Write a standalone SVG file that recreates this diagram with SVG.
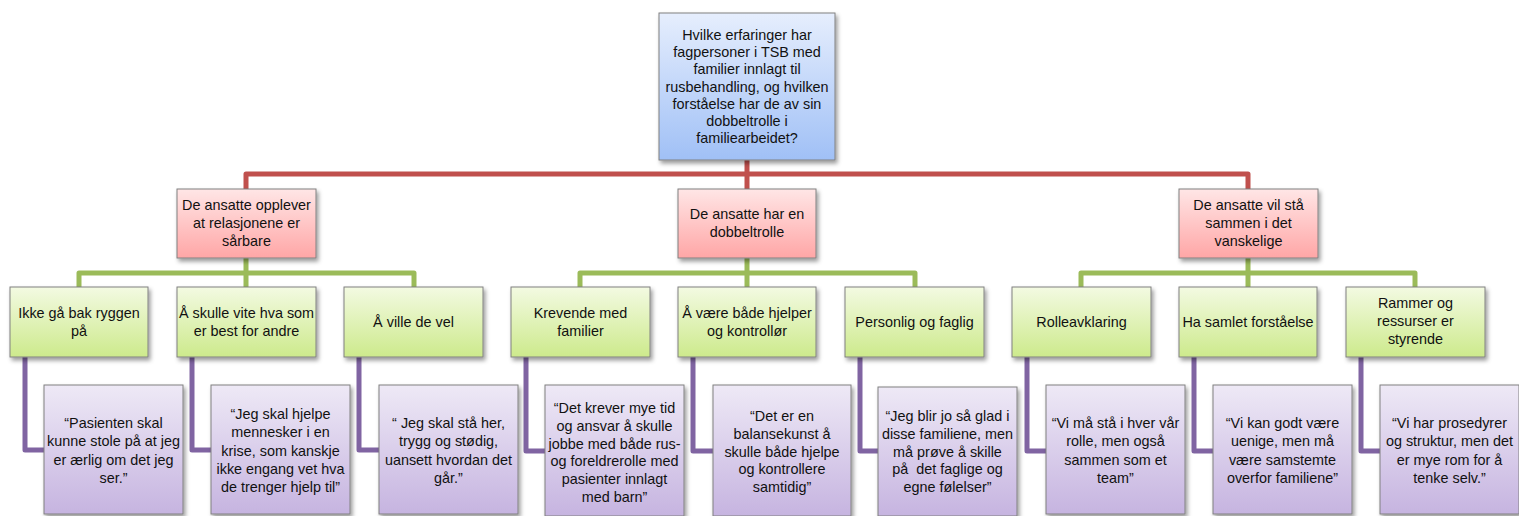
<svg xmlns="http://www.w3.org/2000/svg" width="1519" height="516" viewBox="0 0 1519 516">
<defs>
<linearGradient id="gBlue" x1="0" y1="0" x2="0" y2="1"><stop offset="0" stop-color="#e6eefd"/><stop offset="1" stop-color="#a0c0f6"/></linearGradient>
<linearGradient id="gRed" x1="0" y1="0" x2="0" y2="1"><stop offset="0" stop-color="#ffe6e6"/><stop offset="1" stop-color="#ffa6a6"/></linearGradient>
<linearGradient id="gGreen" x1="0" y1="0" x2="0" y2="1"><stop offset="0" stop-color="#f3fae2"/><stop offset="1" stop-color="#cdea8c"/></linearGradient>
<linearGradient id="gPurple" x1="0" y1="0" x2="0" y2="1"><stop offset="0" stop-color="#eee9f6"/><stop offset="1" stop-color="#c6b4e0"/></linearGradient>
<filter id="sh" x="-10%" y="-10%" width="125%" height="130%"><feDropShadow dx="2" dy="3" stdDeviation="2" flood-color="#000" flood-opacity="0.4"/></filter>
</defs>
<style>
.box{stroke:#808080;stroke-width:1;filter:url(#sh)}
.blue{fill:url(#gBlue)}
.red{fill:url(#gRed)}
.green{fill:url(#gGreen)}
.purple{fill:url(#gPurple)}
text{font-family:"Liberation Sans",Arial,sans-serif;font-size:14.4px;fill:#111;text-anchor:middle}
.pre{white-space:pre}
.cr{fill:none;stroke:#c0504d;stroke-width:5;stroke-linejoin:round}
.cg{fill:none;stroke:#9bbb59;stroke-width:5;stroke-linejoin:round}
.cp{fill:none;stroke:#8064a2;stroke-width:5;stroke-linejoin:round}
</style>
<g id="connectors">
<path class="cr" d="M747 160 V174 M246 189 V174 H1248 V189 M747 174 V189"/>
<path class="cg" d="M246 258 V273 M79 287 V273 H414 V287 M246 273 V287"/>
<path class="cg" d="M747 258 V273 M580 287 V273 H915 V287 M747 273 V287"/>
<path class="cg" d="M1248 258 V273 M1081 287 V273 H1415 V287 M1248 273 V287"/>
<path class="cp" d="M25 357 V450 H44"/>
<path class="cp" d="M192 357 V450 H211"/>
<path class="cp" d="M359 357 V450 H379"/>
<path class="cp" d="M526 357 V451 H545"/>
<path class="cp" d="M693 357 V451 H713"/>
<path class="cp" d="M860 357 V451 H878"/>
<path class="cp" d="M1027 357 V451 H1046"/>
<path class="cp" d="M1194 357 V451 H1213"/>
<path class="cp" d="M1361 357 V451 H1380"/>
</g>
<g id="root">
<rect class="box blue" x="659" y="13" width="176" height="147"/>
<text x="747" y="40">Hvilke erfaringer har</text>
<text x="747" y="57.2">fagpersoner i TSB med</text>
<text x="747" y="74.4">familier innlagt til</text>
<text x="747" y="91.6">rusbehandling, og hvilken</text>
<text x="747" y="108.8">forståelse har de av sin</text>
<text x="747" y="126">dobbeltrolle i</text>
<text x="747" y="143.2">familiearbeidet?</text>
</g>
<g id="theme1">
<rect class="box red" x="177" y="189" width="139" height="69"/>
<text x="246.5" y="210">De ansatte opplever</text>
<text x="246.5" y="228">at relasjonene er</text>
<text x="246.5" y="246">sårbare</text>
</g>
<g id="theme2">
<rect class="box red" x="678" y="189" width="138" height="69"/>
<text x="747" y="219">De ansatte har en</text>
<text x="747" y="237">dobbeltrolle</text>
</g>
<g id="theme3">
<rect class="box red" x="1179" y="189" width="139" height="69"/>
<text x="1248.5" y="210">De ansatte vil stå</text>
<text x="1248.5" y="228">sammen i det</text>
<text x="1248.5" y="246">vanskelige</text>
</g>
<g id="sub1">
<rect class="box green" x="10" y="287" width="138" height="70"/>
<text x="79" y="318">Ikke gå bak ryggen</text>
<text x="79" y="336">på</text>
</g>
<g id="sub2">
<rect class="box green" x="177" y="287" width="139" height="70"/>
<text x="246.5" y="318">Å skulle vite hva som</text>
<text x="246.5" y="336">er best for andre</text>
</g>
<g id="sub3">
<rect class="box green" x="344" y="287" width="139" height="70"/>
<text x="413.5" y="327">Å ville de vel</text>
</g>
<g id="sub4">
<rect class="box green" x="511" y="287" width="139" height="70"/>
<text x="580.5" y="318">Krevende med</text>
<text x="580.5" y="336">familier</text>
</g>
<g id="sub5">
<rect class="box green" x="678" y="287" width="138" height="70"/>
<text x="747" y="318">Å være både hjelper</text>
<text x="747" y="336">og kontrollør</text>
</g>
<g id="sub6">
<rect class="box green" x="845" y="287" width="139" height="70"/>
<text x="914.5" y="327">Personlig og faglig</text>
</g>
<g id="sub7">
<rect class="box green" x="1012" y="287" width="139" height="70"/>
<text x="1081.5" y="327">Rolleavklaring</text>
</g>
<g id="sub8">
<rect class="box green" x="1179" y="287" width="138" height="70"/>
<text x="1248" y="327">Ha samlet forståelse</text>
</g>
<g id="sub9">
<rect class="box green" x="1346" y="287" width="139" height="70"/>
<text x="1415.5" y="308">Rammer og</text>
<text x="1415.5" y="326">ressurser er</text>
<text x="1415.5" y="344">styrende</text>
</g>
<g id="quote1">
<rect class="box purple" x="44" y="385" width="139" height="129"/>
<text x="113.5" y="428">“Pasienten skal</text>
<text x="113.5" y="446.3">kunne stole på at jeg</text>
<text x="113.5" y="464.6">er ærlig om det jeg</text>
<text x="113.5" y="482.9">ser.”</text>
</g>
<g id="quote2">
<rect class="box purple" x="211" y="385" width="139" height="129"/>
<text x="280.5" y="419">“Jeg skal hjelpe</text>
<text x="280.5" y="437.3">mennesker i en</text>
<text x="280.5" y="455.6">krise, som kanskje</text>
<text x="280.5" y="473.9">ikke engang vet hva</text>
<text x="280.5" y="492.2">de trenger hjelp til”</text>
</g>
<g id="quote3">
<rect class="box purple" x="379" y="385" width="139" height="129"/>
<text x="448.5" y="428">“ Jeg skal stå her,</text>
<text x="448.5" y="446.3">trygg og stødig,</text>
<text x="448.5" y="464.6">uansett hvordan det</text>
<text x="448.5" y="482.9">går.”</text>
</g>
<g id="quote4">
<rect class="box purple" x="545" y="385" width="139" height="131"/>
<text x="614.5" y="413">“Det krever mye tid</text>
<text x="614.5" y="430.8">og ansvar å skulle</text>
<text x="614.5" y="448.6">jobbe med både rus-</text>
<text x="614.5" y="466.4">og foreldrerolle med</text>
<text x="614.5" y="484.2">pasienter innlagt</text>
<text x="614.5" y="502">med barn”</text>
</g>
<g id="quote5">
<rect class="box purple" x="713" y="385" width="138" height="131"/>
<text x="782" y="421">“Det er en</text>
<text x="782" y="438.8">balansekunst å</text>
<text x="782" y="456.6">skulle både hjelpe</text>
<text x="782" y="474.4">og kontrollere</text>
<text x="782" y="492.2">samtidig”</text>
</g>
<g id="quote6">
<rect class="box purple" x="878" y="387" width="139" height="129"/>
<text x="947.5" y="421">“Jeg blir jo så glad i</text>
<text x="947.5" y="438.8">disse familiene, men</text>
<text x="947.5" y="456.6">må prøve å skille</text>
<text class="pre" x="947.5" y="474.4">på  det faglige og</text>
<text x="947.5" y="492.2">egne følelser”</text>
</g>
<g id="quote7">
<rect class="box purple" x="1046" y="385" width="139" height="129"/>
<text x="1115.5" y="428">“Vi må stå i hver vår</text>
<text x="1115.5" y="446.3">rolle, men også</text>
<text x="1115.5" y="464.6">sammen som et</text>
<text x="1115.5" y="482.9">team”</text>
</g>
<g id="quote8">
<rect class="box purple" x="1213" y="385" width="139" height="129"/>
<text x="1282.5" y="428">“Vi kan godt være</text>
<text x="1282.5" y="446.3">uenige, men må</text>
<text x="1282.5" y="464.6">være samstemte</text>
<text x="1282.5" y="482.9">overfor familiene”</text>
</g>
<g id="quote9">
<rect class="box purple" x="1380" y="385" width="139" height="129"/>
<text x="1449.5" y="428">“Vi har prosedyrer</text>
<text x="1449.5" y="446.3">og struktur, men det</text>
<text x="1449.5" y="464.6">er mye rom for å</text>
<text x="1449.5" y="482.9">tenke selv.”</text>
</g>
</svg>
